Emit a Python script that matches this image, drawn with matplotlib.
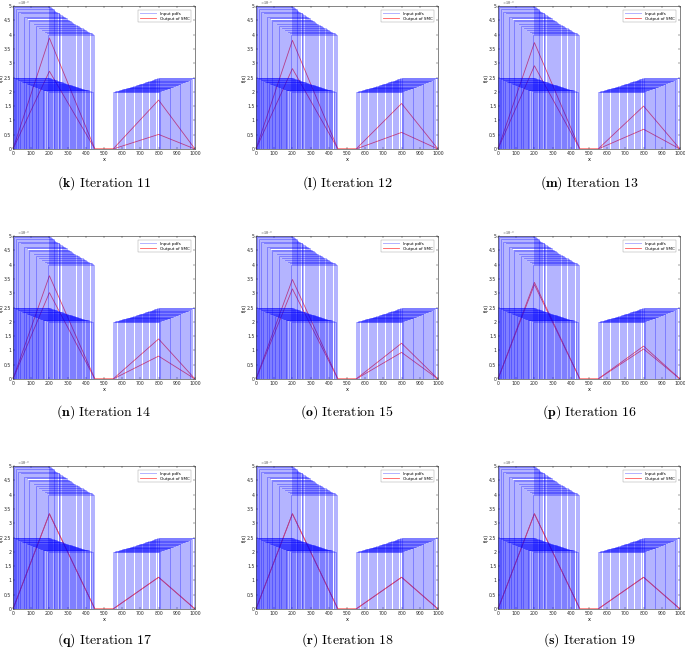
import numpy as np
import matplotlib
matplotlib.use("Agg")
import matplotlib.pyplot as plt

plt.rcParams['mathtext.fontset'] = 'cm'

# input pdfs that live only on the left (uniform, weight 1)
uni_lo = [0, 3, 6, 10, 14, 18, 22, 26, 30, 35, 40, 44, 48, 53, 58, 62, 66, 71, 76, 81, 86, 90, 95, 99,
          104, 109, 114, 119, 124, 129, 134, 140, 145, 150, 155, 160, 165, 170, 175, 180, 185, 190, 195]
uni_hi = [200, 204, 208, 213, 218, 223, 228, 233, 238, 244, 250, 255, 260, 267, 273, 278, 283, 289, 295,
          302, 308, 313, 319, 324, 331, 337, 343, 350, 356, 362, 368, 376, 382, 388, 395, 401, 407, 414,
          420, 426, 432, 439, 445]

# bimodal input pdfs: half weight on the left, half on the right
bi_left_lo = [0, 4, 9, 13, 18, 23, 27, 32, 37, 41, 46, 51, 55, 60, 65, 69, 74, 79, 83, 88,
              93, 97, 102, 107, 111, 116, 121, 125, 130, 135, 139, 144, 149, 153, 158, 163, 167, 172, 181, 190]
bi_left_hi = [200, 205, 211, 216, 223, 229, 234, 240, 246, 252, 258, 264, 269, 275, 282, 287, 293, 299, 304, 311,
              317, 322, 328, 334, 339, 346, 352, 357, 363, 370, 375, 381, 387, 392, 399, 405, 410, 416, 427, 439]
bi_right_lo = [550, 556, 562, 568, 575, 581, 587, 594, 600, 606, 612, 619, 625, 631, 637, 644, 650, 656, 662, 669,
               675, 681, 687, 694, 700, 706, 712, 719, 725, 731, 737, 744, 750, 756, 762, 769, 775, 781, 790, 800]
bi_right_hi = [800, 805, 810, 814, 820, 825, 830, 835, 840, 845, 850, 855, 860, 865, 870, 875, 880, 885, 890, 895,
               900, 905, 910, 915, 920, 925, 930, 935, 940, 945, 950, 955, 960, 965, 970, 975, 980, 985, 992, 1000]

# SMC output: two triangular mixtures per iteration (peaks at x=200 and x=800)
letters = ['k', 'l', 'm', 'n', 'o', 'p', 'q', 'r', 's']
iterations = [11, 12, 13, 14, 15, 16, 17, 18, 19]
out1_left = [3.88e-3, 3.80e-3, 3.72e-3, 3.61e-3, 3.48e-3, 3.38e-3, 3.33e-3, 3.33e-3, 3.33e-3]
out1_right = [0.51e-3, 0.58e-3, 0.69e-3, 0.80e-3, 0.93e-3, 1.05e-3, 1.11e-3, 1.11e-3, 1.11e-3]
out2_left = [2.72e-3, 2.81e-3, 2.91e-3, 3.02e-3, 3.15e-3, 3.30e-3, 3.33e-3, 3.33e-3, 3.33e-3]
out2_right = [1.71e-3, 1.59e-3, 1.50e-3, 1.40e-3, 1.25e-3, 1.15e-3, 1.11e-3, 1.11e-3, 1.11e-3]

tri_x = [0, 200, 450, 550, 800, 1000]

fig = plt.figure(figsize=(6.85, 6.53), dpi=100)

col_left = [13/685, 256/685, 498/685]
row_bot = [1 - 149/653, 1 - 379/653, 1 - 609/653]
ax_w = 182/685
ax_h = 143/653
cap_y = [1 - 183/653, 1 - 412/653, 1 - 640/653]

blue = (0, 0, 1)

for i in range(9):
    r, c = divmod(i, 3)
    ax = fig.add_axes([col_left[c], row_bot[r], ax_w, ax_h])

    # red output curves go under the blue pdfs
    red_lines = []
    for pl, pr in [(out1_left[i], out1_right[i]), (out2_left[i], out2_right[i])]:
        ln, = ax.plot(tri_x, [0, pl, 0, 0, pr, 0], color=(1, 0.35, 0.35), lw=0.6, zorder=1)
        red_lines.append(ln)

    blue_lines = []
    for a, b in zip(uni_lo, uni_hi):
        h = 1.0 / (b - a)
        ln, = ax.plot([0, a, a, b, b, 1000], [0, 0, h, h, 0, 0],
                      color=blue, alpha=0.3, lw=0.7, zorder=2)
        blue_lines.append(ln)
    for a, b, cc, d in zip(bi_left_lo, bi_left_hi, bi_right_lo, bi_right_hi):
        h1 = 0.5 / (b - a)
        h2 = 0.5 / (d - cc)
        ln, = ax.plot([0, a, a, b, b, cc, cc, d, d, 1000],
                      [0, 0, h1, h1, 0, 0, h2, h2, 0, 0],
                      color=blue, alpha=0.3, lw=0.7, zorder=2)
        blue_lines.append(ln)

    ax.set_xlim(0, 1000)
    ax.set_ylim(0, 5e-3)
    ax.set_xticks(np.arange(0, 1001, 100))
    ax.set_xticklabels([str(v) for v in range(0, 1001, 100)])
    yt = np.arange(0, 5.01, 0.5)
    ax.set_yticks(yt * 1e-3)
    ax.set_yticklabels(['%g' % v for v in yt])
    ax.tick_params(direction='in', length=1.5, width=0.3, labelsize=3.3, pad=1.2,
                   top=True, right=True, colors='0.15')
    for sp in ax.spines.values():
        sp.set_linewidth(0.4)
        sp.set_color('0.15')
    ax.set_xlabel('x', fontsize=3.6, labelpad=0.8)
    ax.set_ylabel('f(x)', fontsize=3.4, labelpad=0.3)
    ax.text(0.02, 0.995, r'$\times10^{-3}$', transform=ax.transAxes,
            fontsize=3.0, ha='left', va='bottom', color='0.15')

    leg = ax.legend([blue_lines[0], red_lines[0]], ['Input pdfs', 'Output of SMC'],
                    loc='upper right', fontsize=3, handlelength=4, frameon=True,
                    fancybox=False, borderpad=0.4, labelspacing=0.2,
                    bbox_to_anchor=(0.99, 0.985))
    leg.get_frame().set_linewidth(0.3)
    leg.get_frame().set_edgecolor('0.5')

    fig.text(col_left[c] + ax_w / 2, cap_y[r],
             r'$\mathbf{(%s)}\ \mathrm{Iteration\ %d}$' % (letters[i], iterations[i]),
             fontsize=10, ha='center', va='center')

fig.savefig('out.png', dpi=100)
